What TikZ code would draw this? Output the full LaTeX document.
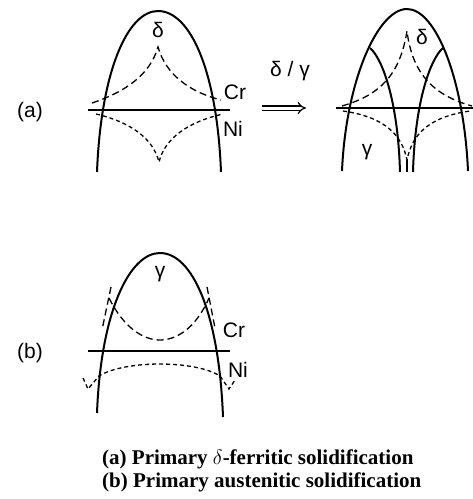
\documentclass[tikz,border=0pt]{standalone}
\usepackage{fontspec}
\setmainfont{Liberation Serif}
\newfontfamily\labfont{Liberation Sans}
\usetikzlibrary{arrows.meta}
\tikzset{
  solid curve/.style={line width=2pt},
  hline/.style={line width=1.5pt},
  cr/.style={line width=1.3pt, dash pattern=on 7pt off 4pt},
  ni/.style={line width=1.3pt, dash pattern=on 4pt off 3pt},
  lab/.style={font=\labfont\fontsize{21}{24}\selectfont, inner sep=0pt},
  captext/.style={font=\bfseries\fontsize{21}{24}\selectfont, inner sep=0pt, anchor=west}
}
\begin{document}
\begin{tikzpicture}[x=1pt,y=-1pt]
\useasboundingbox (0,0) rectangle (473,499);
% ---------- (a) left ----------
\draw[solid curve] (97,172) .. controls (101,70) and (128,11) .. (158,11)
                   .. controls (190,11) and (217,70) .. (221,172);
\draw[hline] (88,110) -- (230,110);
\draw[cr] (92,103) .. controls (125,92) and (150,75) .. (158,47)
          .. controls (166,75) and (190,92) .. (221,100);
\draw[ni] (96,114) .. controls (130,122) and (153,138) .. (159,162)
          .. controls (165,138) and (188,122) .. (223,114);
\node[lab] (la) at (30,112) {(a)};
\node[lab] (d1) at (158,30) {δ};
\node[lab] (cr1) at (235,92) {Cr};
\node[lab] (ni1) at (233,129) {Ni};
% arrow
\node[lab] (dg) at (290,71) {δ / γ};
\coordinate (arS) at (262,108);
\coordinate (arE) at (306,108);
\draw[double, double distance=3pt, line width=1.2pt, -{Implies}] (arS) -- (arE);
% ---------- (a) right ----------
\draw[solid curve] (342,171) .. controls (346,80) and (378,9) .. (407,9)
                   .. controls (436,9) and (464,80) .. (468,171);
\draw[solid curve] (370,48) .. controls (382,58) and (398,100) .. (400,172);
\draw[solid curve] (443,48) .. controls (431,58) and (415,100) .. (413,172);
\draw[hline] (336,108) -- (473,108);
\draw[cr] (342,106) .. controls (380,95) and (400,75) .. (407,31)
          .. controls (412,72) and (432,95) .. (472,106);
\draw[ni] (343,111) .. controls (385,117) and (402,135) .. (407,160)
          .. controls (412,135) and (428,117) .. (470,111);
\draw[line width=1.3pt] (407,160) -- (407,172);
\node[lab] (d2) at (422,37) {δ};
\node[lab] (g2) at (367,152) {γ};
% ---------- (b) ----------
\draw[solid curve] (97,413) .. controls (101,310) and (130,253) .. (160,253)
                   .. controls (192,253) and (219,312) .. (223,417);
\draw[hline] (88,351) -- (230,351);
\draw[cr] (111,287) -- (102,330);
\draw[cr] (207,287) -- (215,328);
\draw[cr] (109,298) .. controls (125,330) and (145,340) .. (160,340)
          .. controls (175,340) and (195,330) .. (209,298);
\draw[ni] (83,378) -- (88,389) -- (99,376)
          .. controls (125,360) and (195,360) .. (220,376)
          -- (229,389) -- (235,380);
\node[lab] (lb) at (30,353) {(b)};
\node[lab] (g3) at (160,274) {γ};
\node[lab] (cr3) at (234,330) {Cr};
\node[lab] (ni3) at (238,370) {Ni};
% ---------- captions ----------
\node[captext] (c1) at (102,459) {(a) Primary $\delta$-ferritic solidification};
\node[captext] (c2) at (102,482) {(b) Primary austenitic solidification};
\end{tikzpicture}
\end{document}
